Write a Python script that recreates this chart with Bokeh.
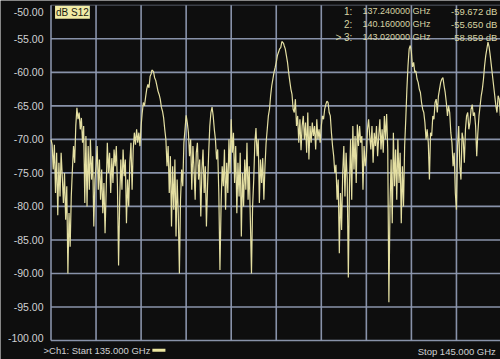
import numpy as np
from bokeh.plotting import figure
from bokeh.models import Range1d, Label
from bokeh.core.properties import value
from bokeh.embed import file_html
from bokeh.resources import INLINE

# Sweep settings (GHz)
f_start = 135.0
f_stop = 145.0
f_step = 0.025

# |S12| in dB, one value per sweep point, 0.5 GHz per row
s12_db = [
    -70.0, -70.8, -74.5, -70.8, -78.0, -72.0, -81.3, -73.5, -78.5, -72.0,
    -75.5, -79.5, -75.0, -82.0, -77.0, -90.0, -81.0, -86.0, -78.5, -74.5,
    -71.0, -73.5, -68.0, -65.3, -67.0, -66.0, -68.5, -66.8, -70.5, -68.0,
    -79.5, -69.5, -80.0, -71.0, -77.5, -70.0, -76.0, -72.5, -83.0, -76.0,
    -74.0, -71.0, -77.5, -73.0, -79.0, -74.5, -81.0, -76.5, -84.0, -77.5,
    -70.5, -75.0, -72.0, -78.0, -72.8, -76.5, -71.5, -74.0, -71.0, -77.0,
    -88.8, -79.0, -73.0, -77.5, -71.5, -75.5, -73.0, -82.5, -76.0, -80.0,
    -73.5, -70.5, -77.5, -71.5, -69.0, -70.8, -68.5, -70.5, -69.0, -71.0,
    -68.0, -66.0, -64.5, -65.0, -63.7, -62.5, -61.8, -62.3, -60.6, -60.2,
    -59.7, -59.9, -60.8, -61.2, -62.0, -62.8, -63.3, -64.0, -65.2, -65.8,
    -66.8, -68.5, -70.0, -74.0, -71.0, -78.0, -72.5, -83.0, -74.0, -80.5,
    -73.0, -84.5, -76.0, -81.0, -90.0, -79.0, -74.5, -77.0, -70.5, -68.5,
    -66.4, -67.5, -69.0, -72.5, -70.0, -77.5, -71.0, -74.5, -79.0, -72.0,
    -70.5, -76.0, -73.0, -81.5, -74.5, -71.5, -78.0, -74.0, -83.0, -77.0,
    -72.0, -68.0, -66.0, -65.2, -66.5, -68.5, -70.0, -73.0, -71.5, -78.0,
    -89.5, -80.0, -74.0, -77.0, -71.5, -80.5, -73.5, -78.0, -70.0, -75.0,
    -67.0, -72.0, -69.0, -76.5, -71.0, -81.0, -73.5, -78.5, -72.0, -84.5,
    -75.0, -80.0, -73.0, -77.5, -70.5, -79.0, -74.0, -82.0, -90.0, -80.0,
    -76.0, -70.5, -68.3, -72.5, -70.0, -79.5, -73.0, -76.5, -72.8, -79.0,
    -74.0, -70.5, -68.5, -66.5, -65.5, -63.5, -62.0, -61.0, -60.0, -59.3,
    -58.5, -57.5, -57.0, -56.5, -56.3, -55.4, -55.6, -56.0, -56.5, -57.5,
    -58.5, -60.0, -61.3, -62.5, -63.3, -65.5, -66.0, -64.0, -68.0, -66.5,
    -70.5, -67.0, -71.6, -68.0, -66.5, -70.0, -67.5, -72.0, -66.0, -73.0,
    -68.0, -70.5, -67.5, -69.5, -68.0, -71.5, -67.0, -70.0, -68.5, -70.5,
    -68.0, -66.5, -67.0, -65.5, -64.8, -64.3, -64.5, -66.0, -66.5, -69.0,
    -71.0, -72.5, -75.0, -73.8, -79.0, -76.0, -87.0, -78.0, -83.5, -75.0,
    -71.0, -78.5, -72.0, -76.0, -90.6, -77.0, -70.0, -79.0, -68.0, -74.5,
    -69.5, -76.5, -67.8, -71.0, -68.0, -70.5, -69.5, -77.5, -71.0, -74.0,
    -72.5, -68.5, -67.0, -69.5, -71.5, -68.0, -73.5, -69.0, -71.0, -68.0,
    -72.5, -69.5, -67.0, -71.5, -68.5, -72.0, -66.5, -70.0, -66.2, -71.5,
    -94.3, -80.0, -73.0, -82.5, -69.0, -77.0, -71.5, -79.0, -70.0, -76.5,
    -72.0, -82.5, -74.0, -80.0, -71.0, -67.0, -62.5, -59.0, -56.5, -56.0,
    -57.0, -59.2, -58.5, -60.0, -59.8, -61.0, -61.5, -62.5, -63.0, -64.5,
    -65.5, -66.0, -67.5, -70.0, -68.5, -70.5, -76.0, -69.0, -69.5, -66.5,
    -67.0, -64.5, -64.0, -66.0, -63.5, -62.5, -61.5, -61.0, -60.8, -62.0,
    -63.0, -64.5, -66.5, -65.0, -66.0, -69.0, -70.5, -74.0, -72.0, -78.0,
    -80.5, -71.0, -68.0, -74.0, -76.0, -69.0, -70.0, -73.5, -68.5, -66.5,
    -66.0, -68.5, -67.5, -65.5, -64.8, -66.5, -66.0, -68.0, -72.5, -69.0,
    -66.5, -65.0, -63.5, -62.5, -61.0, -59.0, -57.5, -56.5, -55.5, -56.2,
    -57.5, -59.0, -60.5, -62.0, -63.5, -65.0, -66.0, -63.5, -64.0, -66.5,
    -65.0,
]

# Marker readouts
marker_freq = [137.24, 140.16, 143.02]
marker_db = [-59.672, -55.650, -58.859]
marker_tags = ["1:", "2:", "> 3:"]

# Graticule: 5 dB per division, 1 GHz per division
y_ticks = [-50, -55, -60, -65, -70, -75, -80, -85, -90, -95, -100]
x_ticks = [135, 136, 137, 138, 139, 140, 141, 142, 143, 144, 145]
y_tick_labels = [f"{t:.2f}" for t in y_ticks]

# Sweep points plus the marker points, in frequency order
freq = np.round(f_start + f_step * np.arange(len(s12_db)), 4)
all_f = np.concatenate([freq, marker_freq])
all_db = np.concatenate([s12_db, marker_db])
order = np.argsort(all_f, kind="stable")
trace_f = all_f[order]
trace_db = all_db[order]

BG = "#0e0e0e"
GRID = "#8f9ab2"
TRACE = "#e4dfa2"
AXIS_TXT = "#d0d1d3"
READ_TXT = "#d8d4a4"
FONT = "Liberation Sans"

# The screen is one frame: graticule, scale text and status lines all live in it
PX_PER_GHZ = 45.05
PX_PER_DB = 6.704
x_lo = f_start - 50.5 / PX_PER_GHZ
x_hi = f_start + 449.5 / PX_PER_GHZ
y_hi = y_ticks[0] + 4.8 / PX_PER_DB
y_lo = y_ticks[-1] - 19.0 / PX_PER_DB

p = figure(
    width=500, height=359,
    x_range=Range1d(x_lo, x_hi), y_range=Range1d(y_lo, y_hi),
    output_backend="svg", toolbar_location=None, min_border=0,
)
p.background_fill_color = BG
p.border_fill_color = BG
p.outline_line_color = None
p.axis.visible = False
p.grid.visible = False

# Graticule
n_x, n_y = len(x_ticks), len(y_ticks)
p.segment(x0=x_ticks, y0=[y_ticks[-1]] * n_x, x1=x_ticks, y1=[y_ticks[0]] * n_x,
          line_color=GRID, line_width=1.6, line_alpha=0.95)
p.segment(x0=[x_ticks[0]] * n_y, y0=y_ticks, x1=[x_ticks[-1]] * n_y, y1=y_ticks,
          line_color=GRID, line_width=1.6,
          line_alpha=[0.35 if t == y_ticks[0] else 0.95 for t in y_ticks])

# dB scale, right-aligned just left of the graticule; end values pulled inside the screen
lab_x = f_start - 7.5 / PX_PER_GHZ
lab_y = list(y_ticks)
lab_y[0] = y_ticks[0] - 7.0 / PX_PER_DB
lab_y[-1] = y_ticks[-1] + 3.0 / PX_PER_DB
p.text(x=[lab_x] * n_y, y=lab_y, text=y_tick_labels, text_align="right",
       text_baseline="middle", text_color=AXIS_TXT, text_font=value(FONT),
       text_font_size="10.5px")

# Measured trace
p.line(trace_f, trace_db, line_color=TRACE, line_width=1.2)

# Trace title tag
p.add_layout(Label(x=135.09, y=-51.05, text="dB S12", text_align="left",
                   text_baseline="middle", text_color="#1a1a10", text_font=FONT,
                   text_font_size="10px", background_fill_color="#f0eba6",
                   padding=1))

# Marker readout table
for i, (tag, mf, md) in enumerate(zip(marker_tags, marker_freq, marker_db)):
    yy = -50.92 - 1.94 * i
    p.add_layout(Label(x=141.69, y=yy, text=tag, text_align="right", text_baseline="middle",
                       text_color=READ_TXT, text_font=FONT, text_font_size="10px"))
    p.add_layout(Label(x=141.915, y=yy, text=f"{mf:.6f} GHz", text_align="left",
                       text_baseline="middle", text_color=READ_TXT, text_font=FONT,
                       text_font_size="9px"))
    p.add_layout(Label(x=144.91, y=yy, text=f"{md:.3f} dB", text_align="right",
                       text_baseline="middle", text_color=READ_TXT, text_font=FONT,
                       text_font_size="9.5px"))

# Channel status line
p.add_layout(Label(x=134.834, y=-101.49, text=f">Ch1: Start  {f_start:.3f} GHz",
                   text_align="left", text_baseline="middle", text_color=AXIS_TXT,
                   text_font=FONT, text_font_size="9.5px"))
p.quad(left=[137.25], right=[137.54], top=[-101.22], bottom=[-101.66],
       fill_color="#ece6a0", line_color=None)
p.add_layout(Label(x=144.933, y=-101.64, text=f"Stop  {f_stop:.3f} GHz",
                   text_align="right", text_baseline="middle", text_color=AXIS_TXT,
                   text_font=FONT, text_font_size="9.5px"))

open("out.html", "w").write(file_html(p, INLINE))
